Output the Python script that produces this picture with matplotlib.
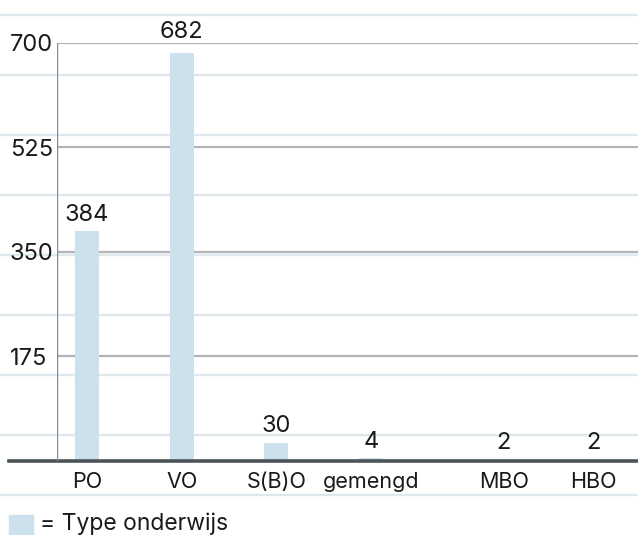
import matplotlib
matplotlib.use("Agg")
import matplotlib.pyplot as plt
import matplotlib.patches as mpatches
from matplotlib.lines import Line2D
import numpy as np

# data
categories = ["PO", "VO", "S(B)O", "gemengd", "MBO", "HBO"]
values = [384, 682, 30, 4, 2, 2]
yticks = [175, 350, 525, 700]
legend_label = "= Type onderwijs"

# layout (slot positions, MBO/HBO are spaced out a bit)
positions = [0, 1, 2, 3, 4.4, 5.35]

BAR = "#cce1ec"
GRID = "#b4b4b8"
STRIPE = "#dfe9ed"
BASE = "#4b5459"
TEXT = "#1a1a1a"

plt.rcParams["font.family"] = ["Inter", "DejaVu Sans"]

W, H = 638, 535
fig = plt.figure(figsize=(W / 100, H / 100), dpi=100, facecolor="white")

# decorative page stripes, full width
for yp in np.arange(14.7, H, 60):
    fig.add_artist(Line2D([0, 1], [1 - yp / H] * 2, color=STRIPE, lw=1.7,
                          transform=fig.transFigure, zorder=0))

left, right = 57, 638
top, bottom = 42.7, 460.7
ax = fig.add_axes([left / W, 1 - bottom / H, (right - left) / W, (bottom - top) / H])
ax.patch.set_alpha(0)

slot = 94.7
x0 = -(87 - left) / slot
ax.set_xlim(x0, x0 + (right - left) / slot)
ax.set_ylim(0, 700)

ax.bar(positions, values, width=24 / slot, color=BAR, zorder=2)

for y in yticks:
    ax.axhline(y, color=GRID, lw=1.6, zorder=1)

# baseline, runs a bit past the y axis to the left
ax.axhline(0, xmin=-(left - 9) / (right - left), xmax=1, color=BASE, lw=2.6,
           clip_on=False, zorder=3)
ax.axvline(x0, color="#8a8a8e", lw=1.0, zorder=3)

for s in ax.spines.values():
    s.set_visible(False)

ax.set_yticks(yticks)
ax.set_yticklabels([str(t) for t in yticks], ha="left", fontsize=17, color=TEXT)
ax.tick_params(axis="y", length=0, pad=(left - 10) * 0.72)

ax.set_xticks(positions)
ax.set_xticklabels(categories, fontsize=15.5, color=TEXT)
ax.tick_params(axis="x", length=0, pad=8)

# value labels; the top one is lifted over the 700 line
for p, v in zip(positions, values):
    ly = max(v, 700) if v > 650 else v
    off = 0 if v > 650 else 4
    ax.annotate(str(v), (p, ly), xytext=(0, off), textcoords="offset points",
                ha="center", va="bottom", fontsize=17, color=TEXT)

# legend
fig.add_artist(mpatches.Rectangle((9 / W, 0), 24 / W, 20 / H, color=BAR,
                                  transform=fig.transFigure))
fig.text(40 / W, 11 / H, legend_label, fontsize=16.5, color=TEXT, va="center", ha="left")

fig.savefig("out.png", dpi=100, facecolor="white")
